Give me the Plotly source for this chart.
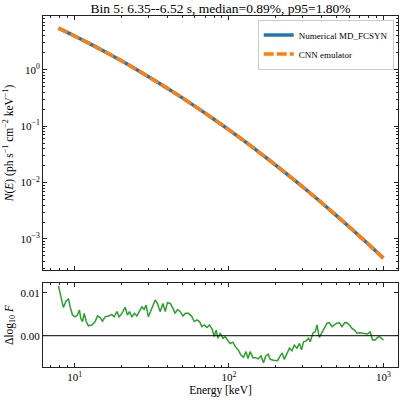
import numpy as np
import plotly.graph_objects as go

# ---------------- data ----------------
energy_kev = [7.85, 10.0, 12.59, 15.85, 19.95, 25.12, 31.62, 39.81, 50.12, 63.10,
              79.43, 100.0, 125.9, 158.5, 199.5, 251.2, 316.2, 398.1, 501.2, 631.0,
              794.3, 1000.0]
n_numerical = [5.50, 3.986, 2.893, 2.071, 1.462, 1.017, 0.698, 0.4723, 0.3151, 0.2073,
               0.1345, 0.08605, 0.05429, 0.03378, 0.02072, 0.01253, 0.007471, 0.004394,
               0.002548, 0.001457, 0.000822, 0.000457]
n_cnn = [5.50, 3.986, 2.893, 2.071, 1.462, 1.017, 0.698, 0.4723, 0.3151, 0.2073,
         0.1345, 0.08605, 0.05429, 0.03378, 0.02072, 0.01253, 0.007471, 0.004394,
         0.002548, 0.001457, 0.000822, 0.000457]

res_log10_energy = [
    0.895, 0.911, 0.927, 0.945, 0.960, 0.971, 0.986, 1.003, 1.018, 1.031,
    1.040, 1.051, 1.062, 1.075, 1.089, 1.111, 1.133, 1.148, 1.165, 1.180,
    1.198, 1.219, 1.241, 1.256, 1.274, 1.288, 1.306, 1.327, 1.342, 1.355,
    1.371, 1.388, 1.403, 1.418, 1.436, 1.450, 1.463, 1.478, 1.489, 1.507,
    1.522, 1.537, 1.554, 1.572, 1.587, 1.601, 1.619, 1.636, 1.651, 1.666,
    1.684, 1.701, 1.718, 1.738, 1.760, 1.775, 1.792, 1.809, 1.824, 1.841,
    1.857, 1.874, 1.891, 1.904, 1.917, 1.928, 1.943, 1.961, 1.975, 1.990,
    2.008, 2.025, 2.042, 2.060, 2.077, 2.094, 2.110, 2.123, 2.137, 2.155,
    2.172, 2.189, 2.207, 2.224, 2.238, 2.254, 2.267, 2.288, 2.314, 2.332,
    2.345, 2.358, 2.375, 2.392, 2.408, 2.423, 2.440, 2.457, 2.470, 2.483,
    2.500, 2.515, 2.526, 2.544, 2.559, 2.570, 2.585, 2.602, 2.617, 2.635,
    2.651, 2.667, 2.682, 2.699, 2.716, 2.732, 2.749, 2.764, 2.781, 2.797,
    2.813, 2.829, 2.846, 2.863, 2.883, 2.898, 2.915, 2.930, 2.948, 2.962,
    2.975, 2.991, 3.001]
res_dlog10 = [
    0.0116, 0.0091, 0.0066, 0.0081, 0.0085, 0.0067, 0.0048, 0.0044, 0.0048, 0.0060,
    0.0040, 0.0033, 0.0052, 0.0033, 0.0023, 0.0025, 0.0033, 0.0046, 0.0042, 0.0034,
    0.0044, 0.0046, 0.0049, 0.0044, 0.0056, 0.0044, 0.0052, 0.0066, 0.0048, 0.0056,
    0.0044, 0.0052, 0.0046, 0.0056, 0.0067, 0.0061, 0.0071, 0.0044, 0.0055, 0.0071,
    0.0083, 0.0075, 0.0056, 0.0075, 0.0056, 0.0077, 0.0075, 0.0064, 0.0052, 0.0061,
    0.0056, 0.0046, 0.0052, 0.0052, 0.0044, 0.0033, 0.0037, 0.0033, 0.0021, 0.0025,
    0.0019, 0.0025, 0.0015, -0.0002, 0.0013, -0.0006, 0.0006, -0.0006, -0.0002, -0.0010,
    -0.0018, -0.0015, -0.0026, -0.0033, -0.0045, -0.0050, -0.0037, -0.0053, -0.0037, -0.0051,
    -0.0051, -0.0054, -0.0047, -0.0063, -0.0047, -0.0043, -0.0055, -0.0057, -0.0058, -0.0047,
    -0.0040, -0.0055, -0.0040, -0.0029, -0.0035, -0.0022, -0.0029, -0.0018, -0.0033, -0.0014,
    -0.0012, -0.0006, -0.0014, 0.0006, 0.0009, 0.0025, -0.0004, 0.0009, 0.0017, 0.0029,
    0.0030, 0.0021, 0.0025, 0.0029, 0.0030, 0.0021, 0.0030, 0.0030, 0.0025, 0.0017,
    0.0013, 0.0006, 0.0007, 0.0006, 0.0006, 0.0004, 0.0009, -0.0010, -0.0010, -0.0004,
    -0.0002, -0.0006, -0.0010]

title_text = "Bin 5: 6.35--6.52 s, median=0.89%, p95=1.80%"
series_names = ["Numerical MD_FCSYN", "CNN emulator"]
x_tick_vals = [10, 100, 1000]
x_tick_text = ["10<sup>1</sup>", "10<sup>2</sup>", "10<sup>3</sup>"]
y_tick_vals = [1e-3, 1e-2, 1e-1, 1]
y_tick_text = ["10<sup>\u22123</sup>", "10<sup>\u22122</sup>", "10<sup>\u22121</sup>", "10<sup>0</sup>"]
res_tick_vals = [0.0, 0.01]

# ---------------- figure ----------------
FONT = "Liberation Serif, Times New Roman, serif"
BLUE, ORANGE, GREEN = "#1f77b4", "#ff7f0e", "#2ca02c"

res_energy = [10 ** v for v in res_log10_energy]

def minor_log(lo, hi):
    vals = []
    for d in range(lo, hi):
        for m in range(2, 10):
            vals.append(m * 10.0 ** d)
    return vals

xrange_log = [0.795, 3.095]

fig = go.Figure()
fig.add_trace(go.Scatter(x=energy_kev, y=n_numerical, mode="lines", name=series_names[0],
                         line=dict(color=BLUE, width=3.5, shape="spline"),
                         xaxis="x", yaxis="y"))
fig.add_trace(go.Scatter(x=energy_kev, y=n_cnn, mode="lines", name=series_names[1],
                         line=dict(color=ORANGE, width=3.5, dash="10px,3px", shape="spline"),
                         xaxis="x", yaxis="y"))
fig.add_trace(go.Scatter(x=res_energy, y=res_dlog10, mode="lines", showlegend=False,
                         line=dict(color=GREEN, width=1.5),
                         xaxis="x2", yaxis="y2"))
fig.add_trace(go.Scatter(x=[10 ** xrange_log[0], 10 ** xrange_log[1]], y=[0, 0], mode="lines",
                         showlegend=False, line=dict(color="black", width=1),
                         xaxis="x2", yaxis="y2"))

axis_common = dict(showline=True, linecolor="#222", linewidth=1, mirror="allticks",
                   ticks="inside", ticklen=4, tickcolor="#222", showgrid=False, zeroline=False,
                   tickfont=dict(family=FONT, size=11, color="black"))
minor_style = dict(ticks="inside", ticklen=2, tickcolor="#222")

fig.update_layout(
    width=400, height=400,
    margin=dict(l=43, r=2, t=16, b=33),
    paper_bgcolor="white", plot_bgcolor="white",
    font=dict(family=FONT, color="black"),
    title=dict(text=title_text, x=0.5, xref="paper", y=1 - 8.5 / 400, yref="container",
               xanchor="center", yanchor="middle",
               font=dict(family=FONT, size=13.5, color="black")),
    showlegend=True,
    legend=dict(x=0.988, y=0.99, xanchor="right", yanchor="top", bgcolor="white",
                bordercolor="#cccccc", borderwidth=1, font=dict(family=FONT, size=9),
                itemwidth=30, tracegroupgap=0),
    xaxis=dict(type="log", range=xrange_log, domain=[0, 1], anchor="y",
               tickvals=x_tick_vals, showticklabels=False,
               minor=dict(tickvals=minor_log(0, 3), **minor_style),
               **axis_common),
    yaxis=dict(type="log", range=[-3.55, 0.955], domain=[0.2764, 1], anchor="x",
               tickvals=y_tick_vals, ticktext=y_tick_text,
               minor=dict(tickvals=minor_log(-4, 1), **minor_style),
               title=dict(text="<i>N</i>(<i>E</i>) (ph s<sup>\u22121</sup> cm<sup>\u22122</sup> keV<sup>\u22121</sup>)",
                          font=dict(family=FONT, size=11.5), standoff=4),
               **axis_common),
    xaxis2=dict(type="log", range=xrange_log, domain=[0, 1], anchor="y2",
                tickvals=x_tick_vals, ticktext=x_tick_text,
                minor=dict(tickvals=minor_log(0, 3), **minor_style),
                title=dict(text="Energy [keV]", font=dict(family=FONT, size=11.5), standoff=3),
                **axis_common),
    yaxis2=dict(range=[-0.00728, 0.01226], domain=[0, 0.2393], anchor="x2",
                tickvals=res_tick_vals, tickformat=".2f",
                title=dict(text="\u0394log<sub>10</sub> <i>F</i>",
                           font=dict(family=FONT, size=11.5), standoff=4),
                **axis_common),
)

fig.write_html("out.html")
